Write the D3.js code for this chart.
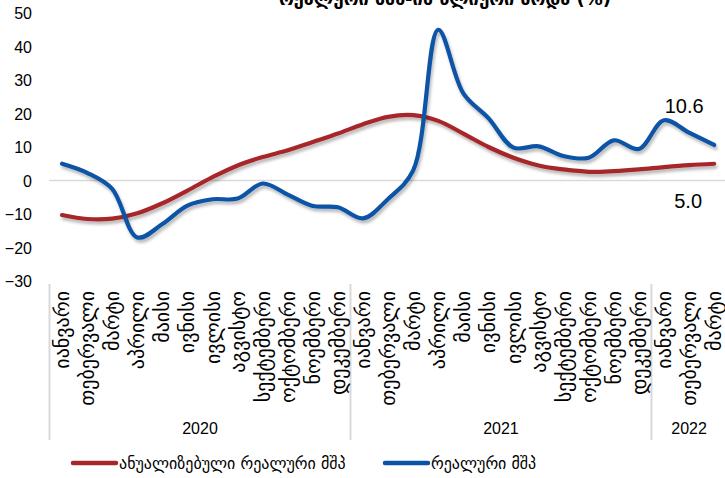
<!DOCTYPE html>
<html>
<head>
<meta charset="utf-8">
<script src="https://cdn.jsdelivr.net/npm/d3@7/dist/d3.min.js"></script>
<style>
  html, body { margin: 0; padding: 0; background: #fff; overflow: hidden; }
  text { font-family: "Liberation Sans", Arial, "DejaVu Sans", sans-serif; fill: #000; }
</style>
</head>
<body>
<svg id="chart" width="725" height="478"></svg>
<script>
// Monthly categories, Jan 2020 – Mar 2022
const months = ["იანვარი","თებერვალი","მარტი","აპრილი","მაისი","ივნისი","ივლისი","აგვისტო","სექტემბერი","ოქტომბერი","ნოემბერი","დეკემბერი"];
const years = ["2020", "2021", "2022"];
const monthsPerYear = [12, 12, 3];

// Annualized real GDP growth (%)
const annualized = [-10.3, -11.5, -11.4, -9.8, -6.8, -3.0, 1.0, 4.5, 7.0, 9.0, 11.5, 14.0,
                    16.8, 19.0, 19.5, 17.8, 14.0, 10.0, 6.8, 4.5, 3.3, 2.6, 2.8, 3.3,
                    4.0, 4.6, 5.0];
// Real GDP growth (%)
const real = [5.0, 2.3, -2.5, -17.0, -13.0, -7.5, -5.6, -5.4, -0.9, -4.2, -7.6, -8.0,
              -11.3, -5.5, 3.0, 45.0, 26.0, 18.6, 9.8, 10.2, 7.3, 6.8, 12.0, 9.4,
              18.0, 14.3, 10.6];

const yTicks = [-30, -20, -10, 0, 10, 20, 30, 40, 50];
const seriesNames = ["ანუალიზებული რეალური მშპ", "რეალური მშპ"];
const titleText = "რეალური მშპ-ის წლიური ზრდა (%)";

const colors = ["#A6262C", "#0A52A6"];

// Build category keys
const cats = [];
years.forEach((yr, yi) => {
  for (let m = 0; m < monthsPerYear[yi]; m++) cats.push({ key: yr + "-" + m, month: months[m], year: yr });
});

const svg = d3.select("#chart");

const x = d3.scaleBand().domain(cats.map(c => c.key)).range([49.5, 726.7]);
const y = d3.scaleLinear().domain([-30, 50]).range([281, 13]);
const cx = i => x(cats[i].key) + x.bandwidth() / 2;

// Drop shadow under the lines
const defs = svg.append("defs");
const f = defs.append("filter").attr("id", "shadow").attr("x", "-10%").attr("y", "-10%").attr("width", "120%").attr("height", "130%");
f.append("feDropShadow").attr("dx", 1.5).attr("dy", 3).attr("stdDeviation", 1.8)
  .attr("flood-color", "#000").attr("flood-opacity", 0.28);

// Title (runs past the top edge)
svg.append("text").attr("x", 445).attr("y", 5).attr("text-anchor", "middle")
  .attr("font-size", 18).attr("font-weight", "bold")
  .style("font-family", "DejaVu Sans, sans-serif").text(titleText);

// Y axis labels
const yAxis = d3.axisLeft(y).tickValues(yTicks).tickSize(0).tickPadding(0).tickFormat(d3.format("d"));
const ya = svg.append("g").attr("transform", "translate(32,0)").call(yAxis);
ya.select(".domain").remove();
ya.selectAll("text").attr("font-size", 16).attr("font-family", "Liberation Sans, Arial, sans-serif").attr("fill", "#000").attr("dy", "0.35em");

// Zero line
svg.append("line").attr("x1", 49).attr("x2", 725).attr("y1", y(0)).attr("y2", y(0))
  .attr("stroke", "#d9d9d9").attr("stroke-width", 1.5);

// Year group separators
let idx = 0;
const bounds = [0];
monthsPerYear.forEach(n => { idx += n; bounds.push(idx); });
bounds.slice(0, 3).forEach(b => {
  const xb = x(cats[b].key);
  svg.append("line").attr("x1", xb).attr("x2", xb).attr("y1", 284).attr("y2", 440)
    .attr("stroke", "#d9d9d9").attr("stroke-width", 2);
});

// Month labels (vertical)
const xAxis = d3.axisBottom(x).tickSize(0).tickFormat((d, i) => cats[i].month);
const xa = svg.append("g").call(xAxis);
xa.select(".domain").remove();
xa.selectAll(".tick text")
  .attr("transform", "rotate(-90)")
  .attr("x", -291).attr("y", 0).attr("dy", "0.35em")
  .attr("text-anchor", "end").attr("font-size", 20).attr("fill", "#000")
  .style("font-family", "DejaVu Sans, sans-serif");

// Year labels
years.forEach((yr, yi) => {
  const a = x(cats[bounds[yi]].key);
  const b = x(cats[bounds[yi + 1] - 1].key) + x.bandwidth();
  svg.append("text").attr("x", (a + b) / 2).attr("y", 434).attr("text-anchor", "middle")
    .attr("font-size", 16).text(yr);
});

// Lines
const line = d3.line().x((d, i) => cx(i)).y(d => y(d)).curve(d3.curveCatmullRom.alpha(0.5));
[annualized, real].forEach((s, k) => {
  svg.append("path").datum(s).attr("d", line).attr("fill", "none")
    .attr("stroke", colors[k]).attr("stroke-width", 4.2).attr("stroke-linecap", "round")
    .attr("filter", "url(#shadow)");
});

// End value labels
const last = cats.length - 1;
svg.append("text").attr("x", cx(last) - 30).attr("y", y(real[last]) - 32).attr("text-anchor", "middle")
  .attr("font-size", 20).text(d3.format(".1f")(real[last]));
svg.append("text").attr("x", cx(last) - 26).attr("y", y(annualized[last]) + 44).attr("text-anchor", "middle")
  .attr("font-size", 20).text(d3.format(".1f")(annualized[last]));

// Legend
const legendX = [73, 385];
seriesNames.forEach((name, k) => {
  const g = svg.append("g").attr("transform", `translate(${legendX[k]},463)`);
  g.append("line").attr("x1", 0).attr("x2", 43).attr("y1", 0).attr("y2", 0)
    .attr("stroke", colors[k]).attr("stroke-width", 4.5).attr("stroke-linecap", "round");
  g.append("text").attr("x", 46).attr("y", 0).attr("dy", "0.35em").attr("font-size", 16)
    .style("font-family", "DejaVu Sans, sans-serif").text(name);
});
</script>
</body>
</html>
